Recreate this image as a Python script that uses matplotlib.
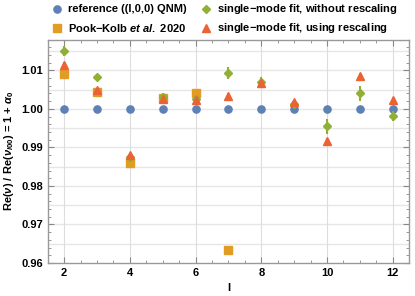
import matplotlib
matplotlib.use("Agg")
import matplotlib.pyplot as plt
from matplotlib.ticker import MultipleLocator, FormatStrFormatter
from matplotlib.lines import Line2D
import numpy as np

plt.rcParams['font.family'] = ['Liberation Sans', 'DejaVu Sans']
plt.rcParams['font.weight'] = 'bold'
plt.rcParams['mathtext.fontset'] = 'custom'
plt.rcParams['mathtext.rm'] = 'Liberation Sans:bold'
plt.rcParams['mathtext.it'] = 'Liberation Sans:bold:italic'
plt.rcParams['mathtext.bf'] = 'Liberation Sans:bold'

# Data
l_ref = [2, 3, 4, 5, 6, 7, 8, 9, 10, 11, 12]
ref_vals = [1.0] * 11

l_pook = [2, 3, 4, 5, 6, 7]
pook_vals = [1.0091, 1.0043, 0.9859, 1.0027, 1.0042, 0.9635]

l_fit = [2, 3, 4, 5, 6, 7, 8, 9, 10, 11, 12]
norescale_vals = [1.0150, 1.0082, 0.9875, 1.0032, 1.0026, 1.0093, 1.0071, 1.0012, 0.9955, 1.0040, 0.9982]
norescale_err = [0.0013, 0.0006, 0.0008, 0.0009, 0.0008, 0.0015, 0.0012, 0.0006, 0.0020, 0.0020, 0.0013]
rescale_vals = [1.0113, 1.0050, 0.9880, 1.0025, 1.0024, 1.0034, 1.0068, 1.0018, 0.9917, 1.0086, 1.0023]
rescale_err = [0.0008, 0.0005, 0.0005, 0.0005, 0.0005, 0.0006, 0.0006, 0.0005, 0.0008, 0.0008, 0.0006]

legend_labels = ['reference ((l,0,0) QNM)', r'Pook$-$Kolb $et$ $al.$ 2020',
                 r'single$-$mode fit, without rescaling', r'single$-$mode fit, using rescaling']

c_blue = '#5E81B5'
c_orange = '#E19C24'
c_green = '#8FB032'
c_red = '#EB6235'

fig = plt.figure(figsize=(4.15, 2.96), dpi=100)
ax = fig.add_axes([0.115, 0.1115, 0.871, 0.755])

ax.set_xlim(1.5, 12.5)
ax.set_ylim(0.96, 1.018)

ax.grid(True, which='major', axis='x', color='#dddddd', lw=0.8)
for yv in np.arange(0.965, 1.0176, 0.005):
    ax.axhline(yv, color='#e6e6e6', lw=1.0, zorder=0)
ax.set_axisbelow(True)

ax.plot(l_ref, ref_vals, 'o', color=c_blue, ms=5.2, zorder=3)
ax.plot(l_pook, pook_vals, 's', color=c_orange, ms=5.5, zorder=3)
ax.errorbar(l_fit, norescale_vals, yerr=norescale_err, fmt='D', color=c_green, ms=4,
            elinewidth=1.5, capsize=0, zorder=4)
ax.errorbar(l_fit, rescale_vals, yerr=rescale_err, fmt='^', color=c_red, ms=5.2,
            elinewidth=1.5, capsize=0, zorder=5)

ax.xaxis.set_major_locator(MultipleLocator(2))
ax.xaxis.set_minor_locator(MultipleLocator(0.5))
ax.yaxis.set_major_locator(MultipleLocator(0.01))
ax.yaxis.set_minor_locator(MultipleLocator(0.002))
ax.yaxis.set_major_formatter(FormatStrFormatter('%.2f'))
ax.tick_params(which='both', direction='in', top=True, right=True, color='#888888',
               labelsize=8, labelcolor='black')
ax.tick_params(which='major', length=4, width=0.8)
ax.tick_params(which='minor', length=2, width=0.6)
for sp in ax.spines.values():
    sp.set_color('#999999')
    sp.set_linewidth(1.0)
for lab in ax.get_xticklabels() + ax.get_yticklabels():
    lab.set_fontweight('bold')

ax.set_xlabel('l', fontsize=8, fontweight='bold', labelpad=4)
ax.set_ylabel(r'Re($\nu$) / Re($\nu_{l00}$) = 1 + $\alpha_0$', fontsize=8, fontweight='bold', labelpad=4)

# Manual legend
markers = [('o', c_blue, 5.2), ('s', c_orange, 5.5), ('D', c_green, 4), ('^', c_red, 5.2)]
pos = [(0.1373, 0.9696), (0.1373, 0.905), (0.4957, 0.9696), (0.4957, 0.905)]
for (m, c, s), (x, y), lab in zip(markers, pos, legend_labels):
    fig.add_artist(Line2D([x], [y], marker=m, color=c, ms=s, ls='', transform=fig.transFigure))
    fig.text(x + 0.026, y, lab, fontsize=8, fontweight='bold', va='center', ha='left')

fig.savefig('out.png', dpi=100)
